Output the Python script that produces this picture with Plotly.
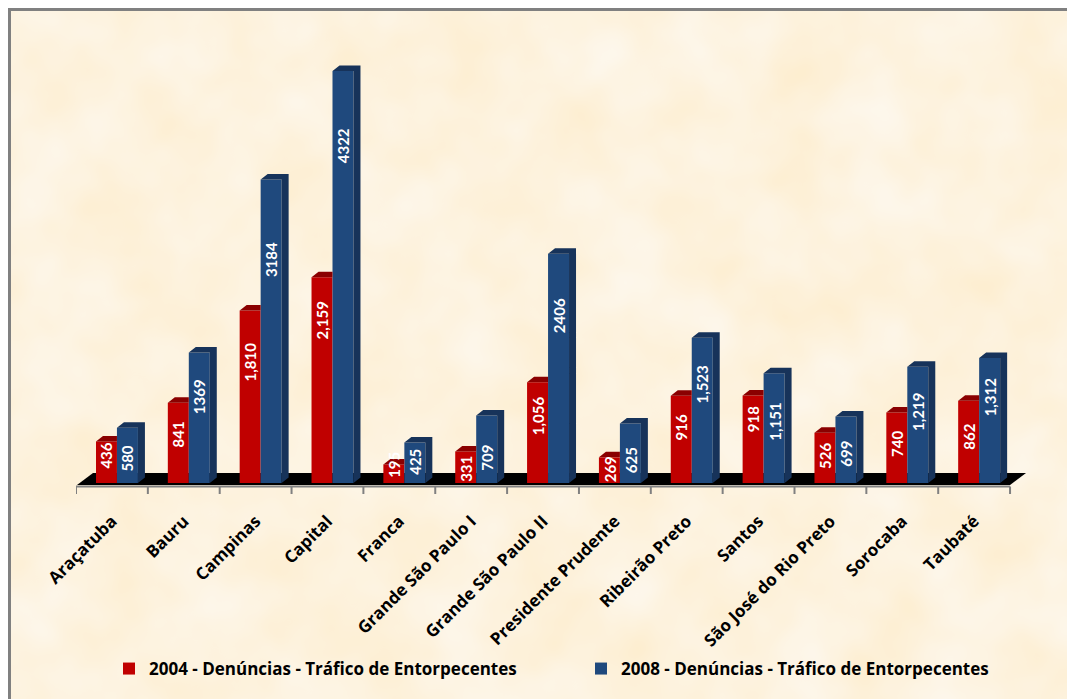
import base64
import plotly.graph_objects as go

# ---- data ----
categories = ["Araçatuba", "Bauru", "Campinas", "Capital", "Franca", "Grande São Paulo I",
              "Grande São Paulo II", "Presidente Prudente", "Ribeirão Preto", "Santos",
              "São José do Rio Preto", "Sorocaba", "Taubaté"]
values_2004 = [436, 841, 1810, 2159, 195, 331, 1056, 269, 916, 918, 526, 740, 862]
values_2008 = [580, 1369, 3184, 4322, 425, 709, 2406, 625, 1523, 1151, 699, 1219, 1312]
labels_2004 = ["436", "841", "1,810", "2,159", "195", "331", "1,056", "269", "916", "918", "526", "740", "862"]
labels_2008 = ["580", "1369", "3184", "4322", "425", "709", "2406", "625", "1,523", "1,151", "699", "1,219", "1,312"]
series_2004 = "2004 - Denúncias - Tráfico de Entorpecentes"
series_2008 = "2008 - Denúncias - Tráfico de Entorpecentes"

# where each rotated label sits, as a share of its bar's height
label_share_2004 = [.67, .61, .70, .79, .97, .44, .67, .55, .64, .73, .54, .55, .56]
label_share_2008 = [.45, .66, .735, .82, .52, .37, .73, .39, .68, .56, .44, .61, .69]

# ---- geometry ----
W, H = 1067, 699
L, R, T, B = 76, 1067, 50, 496
BASE = 483
PX_X = 71.85                # pixels per category
PX_Y = 0.0953               # pixels per value unit
xr = (R - L) / PX_X
yr = [-(B - BASE) / PX_Y, (BASE - T) / PX_Y]
GROUP = 0.57
BARW = 0.292
DX = 7 / PX_X
DY = 5.5 / PX_Y

RED, RED_DK = "#C00000", "#8A0000"
BLUE, BLUE_DK = "#1F497D", "#17335A"
GREY = "#808080"
TICK_FONT = "Open Sans"
LABEL_FONT = "Lato"

xs = [i + GROUP for i in range(len(categories))]


def faces(v_red, v_blue):
    """3-D top and side faces derived from the bar values."""
    rx, ry, bx, by = [], [], [], []
    for x, a, b in zip(xs, v_red, v_blue):
        x0, xm, x1 = x - BARW, x, x + BARW
        rx += [x0, x0 + DX, xm, xm, x0, None]
        ry += [a, a + DY, a + DY, a, a, None]
        bx += [xm, xm + DX, x1 + DX, x1, xm, None]
        by += [b, b + DY, b + DY, b, b, None]
        bx += [x1, x1 + DX, x1 + DX, x1, x1, None]
        by += [b, b + DY, DY, 0, b, None]
    return rx, ry, bx, by


rx, ry, bx, by = faces(values_2004, values_2008)

fig = go.Figure()
fig.add_trace(go.Bar(x=xs, y=values_2004, name=series_2004, legend="legend",
                     marker=dict(color=RED, line=dict(width=0))))
fig.add_trace(go.Bar(x=xs, y=values_2008, name=series_2008, legend="legend2",
                     marker=dict(color=BLUE, line=dict(width=0))))
fig.add_trace(go.Scatter(x=rx, y=ry, mode="lines", fill="toself", fillcolor=RED_DK,
                         line=dict(width=0, color=RED_DK), showlegend=False, hoverinfo="skip"))
fig.add_trace(go.Scatter(x=bx, y=by, mode="lines", fill="toself", fillcolor=BLUE_DK,
                         line=dict(width=0, color=BLUE_DK), showlegend=False, hoverinfo="skip"))

n = len(categories)
ax_y = -3.5 / PX_Y
tick_y = -11 / PX_Y
tx, ty = [0, n, None], [ax_y, ax_y, None]
for i in range(n + 1):
    tx += [i, i, None]
    ty += [ax_y, tick_y, None]
fig.add_trace(go.Scatter(x=tx, y=ty, mode="lines", line=dict(color=GREY, width=2),
                         showlegend=False, hoverinfo="skip"))

for x, v, t, s in zip(xs, values_2004, labels_2004, label_share_2004):
    fig.add_annotation(x=x - BARW / 2, y=v * s, text=f"<b>{t}</b>", textangle=-90, showarrow=False,
                       font=dict(family=LABEL_FONT, size=15, color="white"))
for x, v, t, s in zip(xs, values_2008, labels_2008, label_share_2008):
    fig.add_annotation(x=x + BARW / 2, y=v * s, text=f"<b>{t}</b>", textangle=-90, showarrow=False,
                       font=dict(family=LABEL_FONT, size=15, color="white"))

# parchment background (a soft cloud texture, purely decorative)
svg = f"""<svg xmlns='http://www.w3.org/2000/svg' width='{W}' height='{H}'>
<filter id='p' x='0' y='0' width='100%' height='100%' color-interpolation-filters='sRGB'>
<feTurbulence type='fractalNoise' baseFrequency='0.012' numOctaves='3' seed='7'/>
<feColorMatrix type='matrix' values='0 0 0 0 0.992  0.05 0 0 0 0.925  0.15 0 0 0 0.795  0 0 0 0 1'/>
</filter><rect width='100%' height='100%' filter='url(#p)'/></svg>"""
src = "data:image/svg+xml;base64," + base64.b64encode(svg.encode()).decode()

floor_lo, floor_hi = -2 / PX_Y, 10 / PX_Y
fx0, fx1, sk = 0.014, n, 16 / PX_X
shapes = [
    dict(type="rect", xref="paper", yref="paper",
         x0=(9.5 - L) / (R - L), x1=(W + 20 - L) / (R - L),
         y0=(B - (H + 20)) / (B - T), y1=(B - 9.5) / (B - T),
         fillcolor="rgba(0,0,0,0)", line=dict(color=GREY, width=3), layer="below"),
    dict(type="path", xref="x", yref="y", layer="below", line=dict(width=0), fillcolor="black",
         path=f"M{fx0},{floor_lo} L{fx0 + sk},{floor_hi} L{fx1 + sk},{floor_hi} L{fx1},{floor_lo} Z"),
]

legend_style = dict(orientation="h", xanchor="left", yanchor="bottom", y=(B - 687) / (B - T),
                    font=dict(family=TICK_FONT, size=17, weight="bold", color="black"),
                    bgcolor="rgba(0,0,0,0)")

fig.update_layout(
    width=W, height=H,
    margin=dict(l=L, r=W - R, t=T, b=H - B),
    paper_bgcolor="white", plot_bgcolor="rgba(0,0,0,0)",
    barmode="group", bargap=1 - 2 * BARW, bargroupgap=0,
    shapes=shapes,
    images=[dict(source=src, xref="paper", yref="paper", layer="below", sizing="stretch",
                 x=(10 - L) / (R - L), y=(B - 10) / (B - T), xanchor="left", yanchor="top",
                 sizex=(W - 10) / (R - L), sizey=(H - 10) / (B - T))],
    font=dict(family=TICK_FONT, color="black"),
    xaxis=dict(range=[0, xr], tickmode="array", tickvals=[i + 0.5 for i in range(n)], ticktext=categories,
               tickangle=-45, ticks="", showline=False, showgrid=False, zeroline=False, ticklabelstandoff=11,
               tickfont=dict(family=TICK_FONT, size=17, weight="bold", color="black")),
    yaxis=dict(range=yr, visible=False),
    legend=dict(x=(109 - L) / (R - L), **legend_style),
    legend2=dict(x=(581 - L) / (R - L), **legend_style),
)

fig.write_html("out.html", config={"displayModeBar": False},
               post_script="document.body.style.margin='0';")
